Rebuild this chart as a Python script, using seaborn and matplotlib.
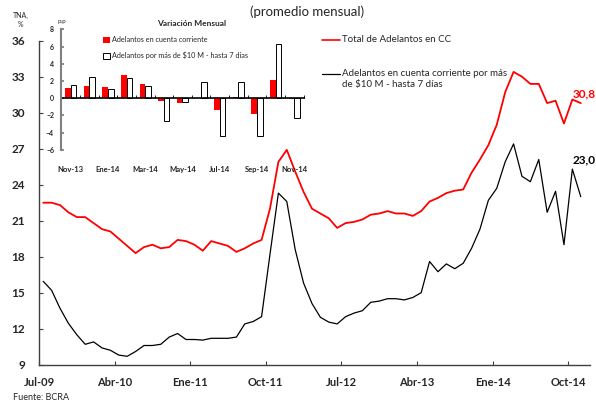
import numpy as np
import pandas as pd
import matplotlib.pyplot as plt
import seaborn as sns

# Tasas mensuales (TNA %), Jul-09 a Nov-14
total_cc = [22.5, 22.5, 22.3, 21.7, 21.3, 21.3, 20.8, 20.3, 20.1, 19.5,
            18.9, 18.3, 18.8, 19.0, 18.7, 18.8, 19.4, 19.3, 19.0, 18.5,
            19.3, 19.1, 18.9, 18.4, 18.7, 19.1, 19.4, 22.0, 25.9, 26.9,
            25.1, 23.4, 22.0, 21.6, 21.2, 20.4, 20.8, 20.9, 21.1, 21.5,
            21.6, 21.8, 21.6, 21.6, 21.4, 21.8, 22.6, 22.9, 23.3, 23.5,
            23.6, 25.0, 26.1, 27.3, 29.0, 31.7, 33.4, 33.0, 32.4, 32.4,
            30.8, 31.0, 29.1, 31.1, 30.8]
mayor_10m = [15.95, 15.2, 13.7, 12.45, 11.5, 10.7, 10.9, 10.4, 10.2, 9.8,
             9.7, 10.1, 10.6, 10.6, 10.7, 11.3, 11.6, 11.1, 11.1, 11.05,
             11.2, 11.2, 11.2, 11.3, 12.4, 12.6, 13.0, 18.2, 23.3, 22.6,
             18.6, 15.8, 14.1, 12.95, 12.55, 12.4, 13.0, 13.3, 13.5, 14.2,
             14.3, 14.5, 14.5, 14.4, 14.6, 15.0, 17.6, 16.75, 17.4, 17.0,
             17.45, 18.7, 20.3, 22.7, 23.7, 25.9, 27.4, 24.7, 24.25, 26.1,
             21.7, 23.45, 19.0, 25.3, 23.0]
etiquetas_x = ['Jul-09', 'Abr-10', 'Ene-11', 'Oct-11', 'Jul-12', 'Abr-13', 'Ene-14', 'Oct-14']

# Variacion mensual (p.p)
meses_var = ['Nov-13', 'Dic-13', 'Ene-14', 'Feb-14', 'Mar-14', 'Abr-14', 'May-14',
             'Jun-14', 'Jul-14', 'Ago-14', 'Sep-14', 'Oct-14', 'Nov-14']
var_cc = [1.2, 1.43, 1.31, 2.71, 1.66, -0.39, -0.62, 0.05, -1.44, 0.15, -1.9, 2.13, -0.16]
var_10m = [1.5, 2.44, 1.04, 2.28, 1.39, -2.64, -0.43, 1.93, -4.46, 1.86, -4.46, 6.31, -2.29]

serie_1 = 'Adelantos en cuenta corriente'
serie_2 = 'Adelantos por más de $10 M - hasta 7 días'

sns.set_theme(style='white')
plt.rcParams['font.family'] = ['Lato', 'DejaVu Sans']

W, H = 596, 401
fig = plt.figure(figsize=(W / 100, H / 100), dpi=100)

# Grafico principal
ax = fig.add_axes([39 / W, 1 - 364.7 / H, 551 / W, 324 / H])
df = pd.DataFrame({'idx': np.arange(len(total_cc)), 'total': total_cc, 'mayor': mayor_10m})
sns.lineplot(data=df, x='idx', y='total', color='#FF0000', lw=1.3, ax=ax)
sns.lineplot(data=df, x='idx', y='mayor', color='black', lw=0.9, ax=ax)
ax.set_xlim(-0.5, 65.1)
ax.set_ylim(9, 36)
ax.set_yticks(range(9, 37, 3))
ax.set_xticks(np.arange(len(etiquetas_x)) * 9 - 0.5)
ax.set_xticklabels(etiquetas_x)
ax.set_xlabel('')
ax.set_ylabel('')
for s in ['top', 'right']:
    ax.spines[s].set_visible(False)
for s in ['left', 'bottom']:
    ax.spines[s].set_color('#404040')
    ax.spines[s].set_linewidth(1)
ax.tick_params(axis='y', direction='in', length=3, width=0.8, color='#404040',
               labelsize=8.5, pad=10, left=True)
ax.tick_params(axis='x', direction='in', length=3, width=0.8, color='#404040',
               labelsize=8, pad=9, bottom=True)
for lbl in ax.get_xticklabels() + ax.get_yticklabels():
    lbl.set_fontweight('bold')

ax.annotate(f'{total_cc[-1]:.1f}'.replace('.', ','), xy=(len(total_cc) - 1, total_cc[-1]),
            xytext=(-8, 9), textcoords='offset pixels', color='#FF0000',
            fontsize=8.5, fontweight='bold', ha='left', va='center')
ax.annotate(f'{mayor_10m[-1]:.1f}'.replace('.', ','), xy=(len(mayor_10m) - 1, mayor_10m[-1]),
            xytext=(-8, 37), textcoords='offset pixels', color='black',
            fontsize=8.5, fontweight='bold', ha='left', va='center')

# leyenda principal
fig.add_artist(plt.Line2D([321.7 / W, 340 / W], [1 - 40 / H, 1 - 40 / H], color='#FF0000', lw=1.2))
fig.text(342 / W, 1 - 40 / H, 'Total de Adelantos en CC', fontsize=7, va='center')
fig.add_artist(plt.Line2D([321.7 / W, 340 / W], [1 - 74.3 / H, 1 - 74.3 / H], color='black', lw=0.9))
fig.text(342 / W, 1 - 68.5 / H, 'Adelantos en cuenta corriente por más\nde $10 M - hasta 7 días',
         fontsize=7, va='top', linespacing=1.35)

fig.text(307 / W, 1 - 12 / H, '(promedio mensual)', fontsize=9.5, ha='center', va='center')
fig.text(21 / W, 1 - 20 / H, 'TNA,\n%', fontsize=5, ha='center', va='center', linespacing=1.4)
fig.text(13 / W, 1 - 398 / H, 'Fuente: BCRA', fontsize=6.5, va='center')

# Recuadro: variacion mensual
ax_in = fig.add_axes([61 / W, 1 - 149.7 / H, 244 / W, 120.4 / H])
ax_in.patch.set_alpha(0)
df_var = pd.DataFrame({
    'mes': meses_var * 2,
    'valor': var_cc + var_10m,
    'serie': [serie_1] * len(meses_var) + [serie_2] * len(meses_var),
})
sns.barplot(data=df_var, x='mes', y='valor', hue='serie', order=meses_var,
            palette=['#FF0000', 'white'], saturation=1, width=0.61, ax=ax_in, legend=False)
for bar in ax_in.containers[0]:
    bar.set_linewidth(0)
for bar in ax_in.containers[1]:
    bar.set_edgecolor('black')
    bar.set_linewidth(0.7)
ax_in.axhline(0, color='black', lw=1.2)
ax_in.vlines(np.arange(len(meses_var) + 1) - 0.5, 0, 0.35, color='black', lw=0.6)
ax_in.set_xlim(-0.52, 12.58)
ax_in.set_ylim(-6, 8)
ax_in.set_yticks(range(-6, 9, 2))
ax_in.set_xticks(range(0, len(meses_var), 2))
ax_in.set_xticklabels(meses_var[::2])
ax_in.set_xlabel('')
ax_in.set_ylabel('')
for s in ['top', 'right', 'bottom']:
    ax_in.spines[s].set_visible(False)
ax_in.spines['left'].set_color('#808080')
ax_in.spines['left'].set_linewidth(1.5)
ax_in.tick_params(axis='y', direction='in', length=2, color='#808080', labelsize=5, pad=5, left=True)
ax_in.tick_params(axis='x', length=0, labelsize=5.5, pad=12)
for lbl in ax_in.get_xticklabels() + ax_in.get_yticklabels():
    lbl.set_fontweight('bold')

ax_in.legend(ax_in.containers, [serie_1, serie_2], loc='upper left',
             bbox_to_anchor=(103 / W, 1 - 36 / H), bbox_transform=fig.transFigure,
             frameon=False, fontsize=5.2, handlelength=0.9, handleheight=0.9,
             handletextpad=0.3, labelspacing=1.2, borderpad=0, borderaxespad=0)

fig.text(192 / W, 1 - 23 / H, 'Variación Mensual', fontsize=6, fontweight='bold', ha='center', va='center')
fig.text(62 / W, 1 - 22 / H, 'p.p', fontsize=4.5, ha='center', va='center')

fig.savefig('out.png', dpi=100)
